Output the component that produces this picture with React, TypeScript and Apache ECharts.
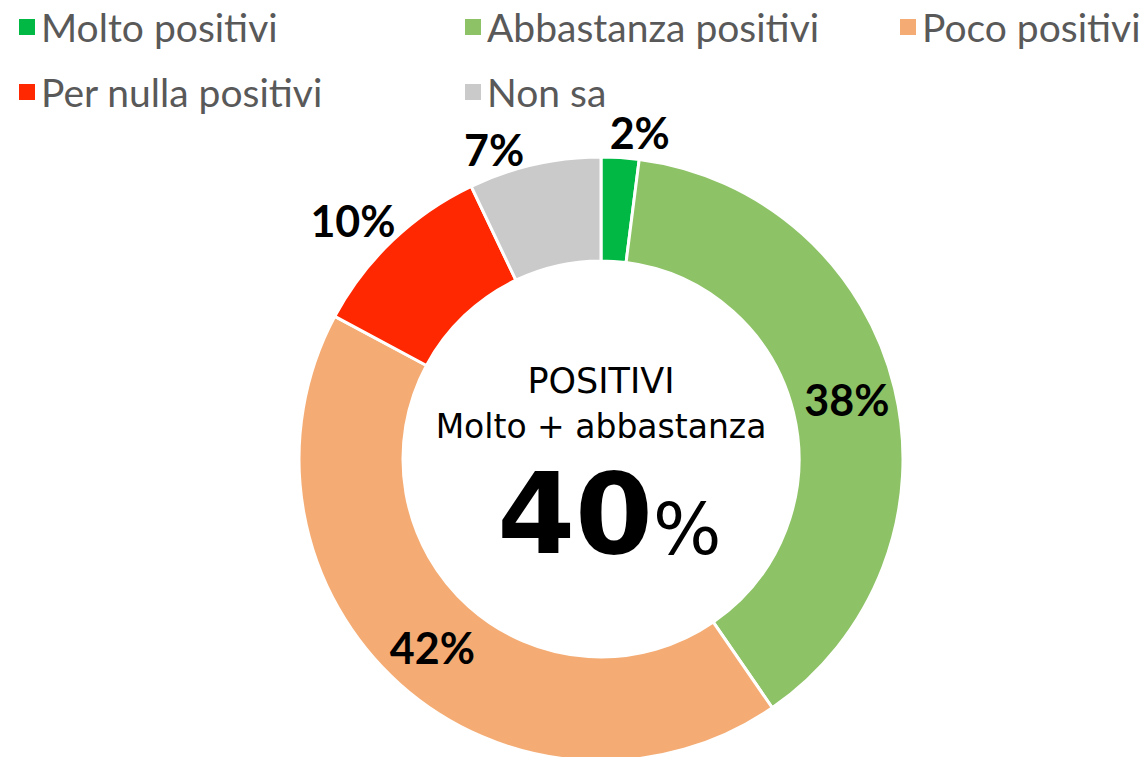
import React, { useEffect, useRef } from 'react';
import * as echarts from 'echarts';

const categories = ['Molto positivi', 'Abbastanza positivi', 'Poco positivi', 'Per nulla positivi', 'Non sa'];
const values = [2, 38, 42, 10, 7];
const colors = ['#00B843', '#8DC266', '#F4AC74', '#FF2800', '#CACACA'];
const labelPositions = ['outside', 'inside', 'inside', 'outside', 'outside'];
const labelLineLength = [25, 0, 0, 27, 15];
const labelLineLength2 = [13, 0, 0, 16, 32];
const legendColumns = [
  ['Molto positivi', 'Per nulla positivi'],
  ['Abbastanza positivi', 'Non sa'],
  ['Poco positivi'],
];
const legendLefts = [17, 463, 898];
const centerTitle = ['POSITIVI', 'Molto + abbastanza'];
const centerValue = '40';

export default function App() {
  const ref = useRef<HTMLDivElement>(null);
  useEffect(() => {
    if (!ref.current) return;
    const chart = echarts.init(ref.current, null, { renderer: 'svg' });
    const centerFont = 'DejaVu Sans';
    chart.setOption({
      animation: false,
      backgroundColor: '#ffffff',
      legend: legendColumns.map((col, i) => ({
        data: col,
        orient: 'vertical',
        left: legendLefts[i],
        top: 4,
        padding: 0,
        icon: 'rect',
        itemWidth: 18,
        itemHeight: 18,
        itemGap: 19,
        itemTextGap: 15,
        selectedMode: false,
        textStyle: { fontFamily: 'Lato', fontSize: 39, color: '#595959', lineHeight: 46 },
      })),
      graphic: [
        {
          type: 'text',
          x: 601,
          y: 381,
          style: {
            text: centerTitle[0],
            fontFamily: centerFont,
            fontSize: 35,
            fill: '#000',
            align: 'center',
            verticalAlign: 'middle',
          },
        },
        {
          type: 'text',
          x: 601,
          y: 426,
          style: {
            text: centerTitle[1],
            fontFamily: centerFont,
            fontSize: 33,
            fill: '#000',
            align: 'center',
            verticalAlign: 'middle',
          },
        },
        {
          type: 'text',
          x: 653,
          y: 514,
          style: {
            text: centerValue,
            fontFamily: centerFont,
            fontSize: 112,
            fontWeight: 'bold',
            fill: '#000',
            align: 'right',
            verticalAlign: 'middle',
          },
        },
        {
          type: 'text',
          x: 653,
          y: 529,
          style: {
            text: '%',
            fontFamily: centerFont,
            fontSize: 72,
            fill: '#000',
            align: 'left',
            verticalAlign: 'middle',
          },
        },
      ],
      series: [
        {
          type: 'pie',
          center: [601, 459],
          radius: [198, 302],
          startAngle: 90,
          clockwise: true,
          avoidLabelOverlap: false,
          itemStyle: { borderColor: '#ffffff', borderWidth: 3 },
          label: {
            show: true,
            formatter: (p: any) => `${p.value}%`,
            fontFamily: 'Lato',
            fontWeight: 'bold',
            fontSize: 43,
            color: '#000',
          },
          labelLayout: { align: 'center' },
          emphasis: { disabled: true },
          data: categories.map((name, i) => ({
            name,
            value: values[i],
            itemStyle: { color: colors[i] },
            label: { position: labelPositions[i] },
            labelLine: { show: false, length: labelLineLength[i], length2: labelLineLength2[i] },
          })),
        },
      ],
    });
    return () => chart.dispose();
  }, []);
  return (
    <div
      ref={ref}
      style={{ position: 'fixed', left: 0, top: 0, width: 1143, height: 757 }}
    />
  );
}
